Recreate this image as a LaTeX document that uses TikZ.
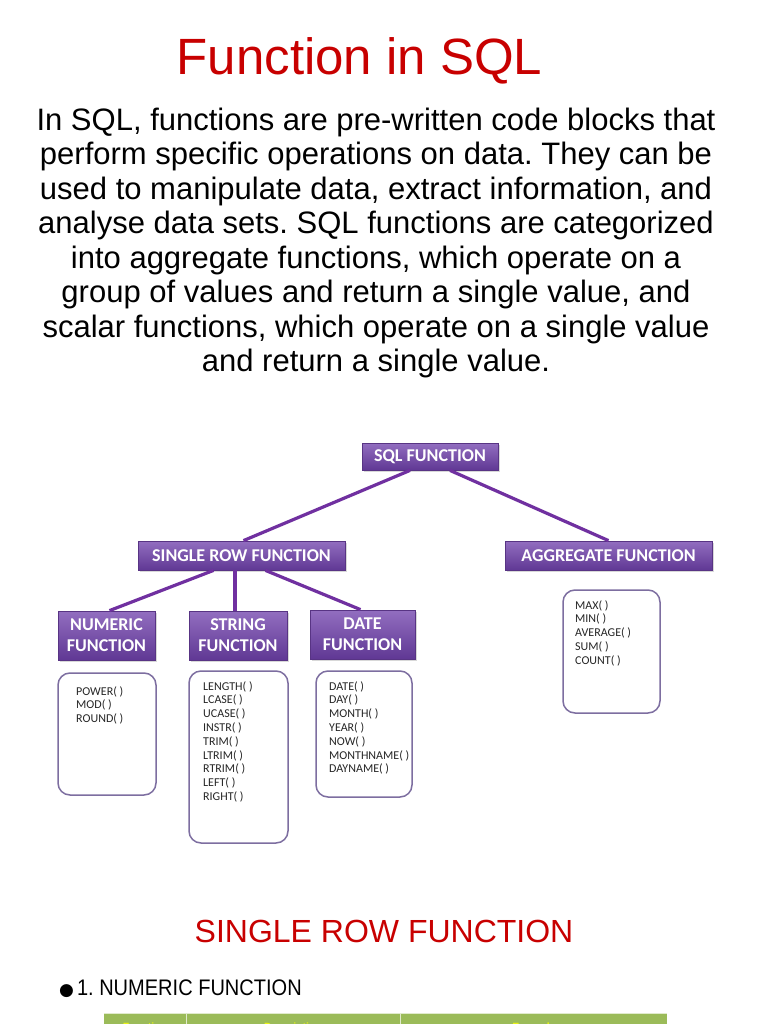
\documentclass[tikz,border=0pt]{standalone}
\usepackage{fontspec}
\setmainfont{Liberation Sans}
\newfontfamily\diagfont{Carlito}
\newfontfamily\condfont[FakeStretch=0.89]{Liberation Sans}
\newfontfamily\symfont{DejaVu Sans}
\usetikzlibrary{positioning, calc, shadows}
\frenchspacing

\definecolor{titlered}{RGB}{200,0,0}
\definecolor{purptop}{RGB}{146,110,192}
\definecolor{purpbot}{RGB}{96,56,148}
\definecolor{boxedge}{RGB}{88,52,132}
\definecolor{linkpurple}{RGB}{112,48,160}
\definecolor{listedge}{RGB}{125,110,160}
\definecolor{tablegreen}{RGB}{155,187,89}
\definecolor{headyellow}{RGB}{235,245,20}

\begin{document}
\begin{tikzpicture}[x=1pt, y=-1pt,
    fbox/.style={draw=boxedge, line width=0.8pt, top color=purptop, bottom color=purpbot,
      drop shadow={shadow xshift=1.5pt, shadow yshift=-1.5pt, opacity=0.3},
      text=white, font=\diagfont\bfseries\fontsize{18}{21}\selectfont, align=center, inner sep=0pt},
    listbox/.style={draw=listedge, line width=1.5pt, rounded corners=12pt, fill=white},
    listtext/.style={font=\diagfont\fontsize{12}{13.8}\selectfont, align=left,
      anchor=base west, inner sep=0pt, text=black!85},
    link/.style={draw=linkpurple, line width=3.2pt},
    heading/.style={text=titlered, anchor=base, inner sep=0pt},
    colhead/.style={text=headyellow, font=\bfseries\fontsize{10.5}{12}\selectfont, anchor=base, inner sep=0pt}]
    \useasboundingbox[fill=white] (0,0) rectangle (768,1024);

    % headings and text (base = last line)
    \node[heading, font=\fontsize{51}{60}\selectfont] (title) at (359.5,75) {Function in SQL};
    \node[font=\fontsize{31}{34.5}\selectfont, align=center, anchor=base, inner sep=0pt] (intro) at (376,371.5)
      {In SQL, functions are pre-written code blocks that\\
       perform specific operations on data. They can be\\
       used to manipulate data, extract information, and\\
       analyse data sets. SQL functions are categorized\\
       into aggregate functions, which operate on a\\
       group of values and return a single value, and\\
       scalar functions, which operate on a single value\\
       and return a single value.};

    % function boxes
    \node[fbox, minimum width=136pt, minimum height=27pt] (sql) at (430,456.5) {SQL FUNCTION};
    \node[fbox, minimum width=207pt, minimum height=29pt] (single) at (241.5,555.5) {SINGLE ROW FUNCTION};
    \node[fbox, minimum width=207pt, minimum height=29pt] (aggr) at (608.5,555.5) {AGGREGATE FUNCTION};
    \node[fbox, minimum width=97pt, minimum height=49pt] (numeric) at (106.5,635.5) {NUMERIC\\FUNCTION};
    \node[fbox, minimum width=98pt, minimum height=49pt] (string) at (238,635.5) {STRING\\FUNCTION};
    \node[fbox, minimum width=105pt, minimum height=49pt] (date) at (362.5,634.5) {DATE\\FUNCTION};

    % lists
    \node[listbox, minimum width=98pt, minimum height=122pt] (numlist) at (107,734) {};
    \node[listbox, minimum width=99pt, minimum height=172pt] (strlist) at (238.5,757) {};
    \node[listbox, minimum width=96pt, minimum height=126pt] (datelist) at (364,734) {};
    \node[listbox, minimum width=97pt, minimum height=123pt] (agglist) at (611.5,651.5) {};
    \node[listtext] (numitems) at (76,722.6) {POWER( )\\MOD( )\\ROUND( )};
    \node[listtext] (stritems) at (203,800.4) {LENGTH( )\\LCASE( )\\UCASE( )\\INSTR( )\\TRIM( )\\LTRIM( )\\RTRIM( )\\LEFT( )\\RIGHT( )};
    \node[listtext] (dateitems) at (329,772.8) {DATE( )\\DAY( )\\MONTH( )\\YEAR( )\\NOW( )\\MONTHNAME( )\\DAYNAME( )};
    \node[listtext] (aggitems) at (575,664.2) {MAX( )\\MIN( )\\AVERAGE( )\\SUM( )\\COUNT( )};

    % links
    \draw[link] ([xshift=-20pt]sql.south) -- ([xshift=2pt]single.north);
    \draw[link] ([xshift=20pt]sql.south) -- (aggr.north);
    \draw[link] ([xshift=-28pt]single.south) -- ([xshift=3pt]numeric.north);
    \draw[link] ([xshift=-3pt]string.north |- single.south) -- ([xshift=-3pt]string.north);
    \draw[link] ([xshift=24pt]single.south) -- ([xshift=-2pt]date.north);

    % single row section
    \node[heading, font=\fontsize{32}{38}\selectfont] (rowtitle) at (384,942) {SINGLE ROW FUNCTION};
    \node[anchor=base west, inner sep=0pt, font=\condfont\fontsize{22.5}{26}\selectfont] (numhead) at (59,995)
      {{\symfont\fontsize{17}{20}\selectfont ●}\kern3pt 1. NUMERIC FUNCTION};

    % table header
    \fill[tablegreen] (104,1013) rectangle (667,1034);
    \draw[white!70!tablegreen, line width=1pt] (104,1013.5) -- (667,1013.5);
    \draw[white!70!tablegreen, line width=1pt] (186,1013) -- (186,1034) (400,1013) -- (400,1034);
    \node[colhead] (hfunc) at (145,1030) {Function};
    \node[colhead] (hdesc) at (293,1030) {Description};
    \node[colhead] (hexam) at (534,1030) {Example};
\end{tikzpicture}
\end{document}
